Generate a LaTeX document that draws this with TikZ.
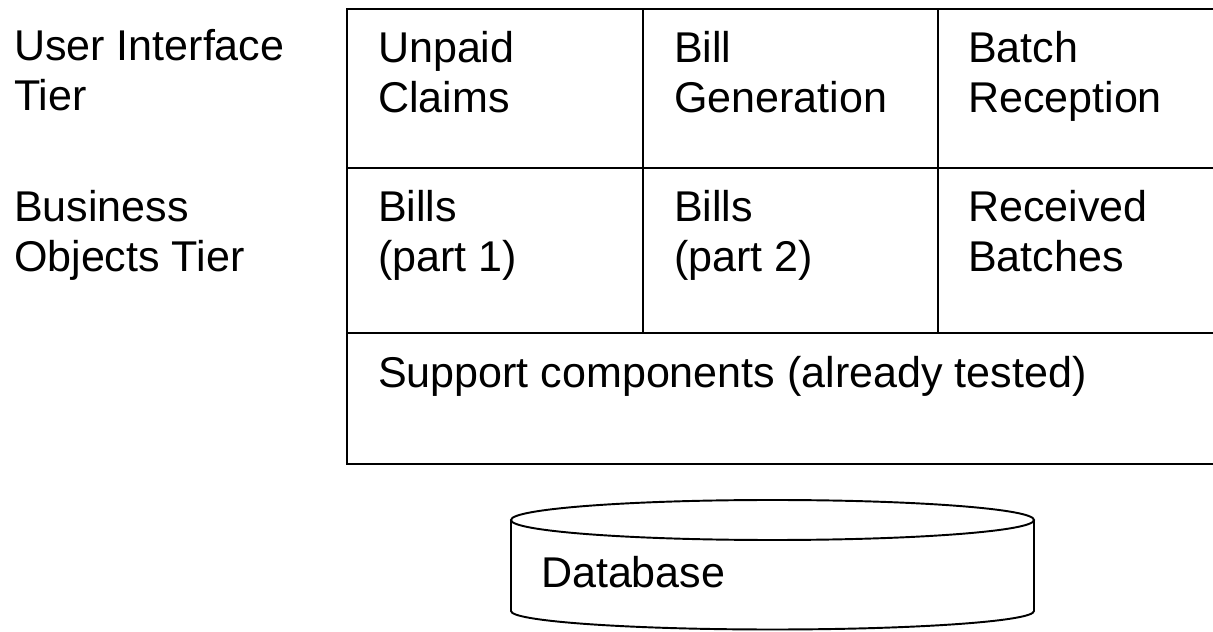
\documentclass[tikz,border=0pt]{standalone}
\usepackage{fontspec}
\setmainfont{Liberation Sans}
\usepackage{tikz}
\usetikzlibrary{positioning}

\begin{document}
\begin{tikzpicture}[line width=1.2pt,
        txt/.style={anchor=base west,inner sep=0pt,align=left,font=\fontsize{24.5}{28.45}\selectfont}]
        \useasboundingbox (0,0) rectangle (24.26,12.62);

        \node[txt] (ui)      at (0.26,10.40) {User Interface\\Tier};
        \node[txt] (bo)      at (0.26,7.18)  {Business\\Objects Tier};

        \node[txt] (claims)  at (7.54,10.36)  {Unpaid\\Claims};
        \node[txt] (billgen) at (13.46,10.36) {Bill\\Generation};
        \node[txt] (batchrc) at (19.34,10.36) {Batch\\Reception};
        \node[txt] (bills1)  at (7.54,7.18)   {Bills\\(part 1)};
        \node[txt] (bills2)  at (13.46,7.18)  {Bills\\(part 2)};
        \node[txt] (batches) at (19.34,7.18)  {Received\\Batches};
        \node[txt] (support) at (7.54,4.86)   {Support components (already tested)};

        \draw (24.26,12.44) -- (6.94,12.44) -- (6.94,3.34) -- (24.26,3.34);
        \draw (6.94,9.26) -- (24.26,9.26)
              (6.94,5.96) -- (24.26,5.96)
              (12.86,12.44) -- (12.86,5.96)
              (18.76,12.44) -- (18.76,5.96);

        \draw[line width=1.1pt] (15.45,2.22) ellipse [x radius=5.23, y radius=0.4];
        \draw[line width=1.1pt] (10.22,2.22) -- (10.22,0.40)
              arc [start angle=180, end angle=360, x radius=5.23, y radius=0.37]
              -- (20.68,2.22);
        \node[txt] (db) at (10.80,0.88) {Database};
\end{tikzpicture}
\end{document}
